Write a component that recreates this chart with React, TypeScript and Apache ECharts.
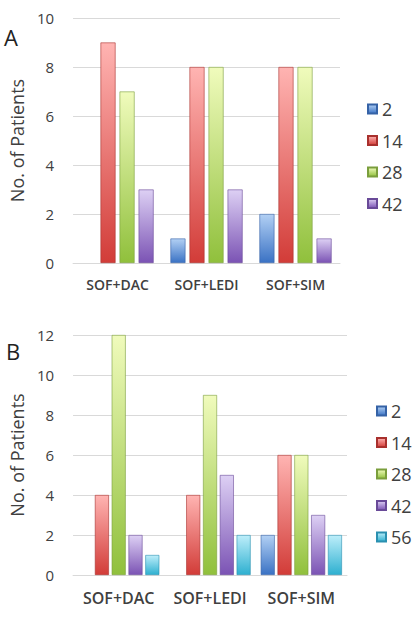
import React, { useEffect, useRef } from "react";
import * as echarts from "echarts";

const categories = ["SOF+DAC", "SOF+LEDI", "SOF+SIM"];
const seriesNamesA = ["2", "14", "28", "42"];
const seriesNamesB = ["2", "14", "28", "42", "56"];
const valuesA = [
  [0, 1, 2],
  [9, 8, 8],
  [7, 8, 8],
  [3, 3, 1],
];
const valuesB = [
  [0, 0, 2],
  [4, 4, 6],
  [12, 9, 6],
  [2, 5, 3],
  [1, 2, 2],
];
const yTicksA = { min: 0, max: 10, interval: 2 };
const yTicksB = { min: 0, max: 12, interval: 2 };

const palette: Record<string, [string, string, string]> = {
  "2": ["#b2d0f4", "#3a72c4", "#3562a6"],
  "14": ["#ffb4b2", "#d23c38", "#a8302d"],
  "28": ["#f0fbbc", "#90c03c", "#7a9e3c"],
  "42": ["#ddd0f4", "#7b53b4", "#694a98"],
  "56": ["#bdeefa", "#2eb0d0", "#2a90b0"],
};

const grad = (name: string) =>
  new echarts.graphic.LinearGradient(0, 0, 0, 1, [
    { offset: 0, color: palette[name][0] },
    { offset: 1, color: palette[name][1] },
  ]);

const FONT = "'Open Sans', sans-serif";
const TXT = "#404040";

export default function App() {
  const ref = useRef<HTMLDivElement>(null);
  useEffect(() => {
    if (!ref.current) return;
    const chart = echarts.init(ref.current, undefined, { renderer: "svg" });
    const mkX = (gi: number, size: number, margin: number) => ({
      type: "category",
      gridIndex: gi,
      data: categories,
      axisTick: { show: false },
      axisLine: { lineStyle: { color: "#d9d9d9" } },
      axisLabel: {
        color: TXT,
        fontFamily: FONT,
        fontSize: size,
        fontWeight: 600,
        margin,
        interval: 0,
        hideOverlap: false,
      },
    });
    const mkY = (gi: number, t: any, nameGap: number) => ({
      type: "value",
      gridIndex: gi,
      min: t.min,
      max: t.max,
      interval: t.interval,
      name: "No. of Patients",
      nameLocation: "middle",
      nameGap,
      nameTextStyle: { color: TXT, fontFamily: FONT, fontSize: 18 },
      axisLine: { show: false },
      axisTick: { show: false },
      splitLine: { lineStyle: { color: "#d9d9d9", width: 1 } },
      axisLabel: { color: TXT, fontFamily: FONT, fontSize: 15, margin: 19 },
    });
    const toData = (arr: number[]) => arr.map((v) => (v === 0 ? "-" : v));
    const series: any[] = [];
    seriesNamesA.forEach((n, i) => {
      series.push({
        type: "bar",
        name: n,
        xAxisIndex: 0,
        yAxisIndex: 0,
        data: toData(valuesA[i]),
        barWidth: 15,
        barGap: "27%",
        itemStyle: { color: grad(n), borderColor: palette[n][2], borderWidth: 0.6 },
      });
    });
    seriesNamesB.forEach((n, i) => {
      series.push({
        type: "bar",
        name: n,
        xAxisIndex: 1,
        yAxisIndex: 1,
        data: toData(valuesB[i]),
        barWidth: 14,
        barGap: "20%",
        itemStyle: { color: grad(n), borderColor: palette[n][2], borderWidth: 0.6 },
      });
    });
    const legendBase = {
      orient: "vertical",
      itemWidth: 9,
      itemHeight: 9,
      icon: "rect",
      textStyle: { color: TXT, fontFamily: FONT, fontSize: 18, lineHeight: 18 },
      selectedMode: false,
    };
    chart.setOption({
      animation: false,
      backgroundColor: "#ffffff",
      grid: [
        { left: 72, right: 74, top: 18, bottom: 357 },
        { left: 72, right: 67, top: 335, bottom: 45 },
      ],
      xAxis: [mkX(0, 14, 14), mkX(1, 16, 15)],
      yAxis: [mkY(0, yTicksA, 46), mkY(1, yTicksB, 46)],
      legend: [
        { ...legendBase, data: seriesNamesA, left: 362, top: 95, itemGap: 13.5 },
        { ...legendBase, data: seriesNamesB, left: 371, top: 397, itemGap: 13.5 },
      ],
      graphic: [
        { type: "text", left: 4, top: 26, style: { text: "A", font: `22px ${FONT}`, fill: "#222" } },
        { type: "text", left: 6, top: 340, style: { text: "B", font: `22px ${FONT}`, fill: "#222" } },
      ],
      series,
    });
    return () => chart.dispose();
  }, []);
  return (
    <div
      ref={ref}
      style={{ position: "fixed", left: 0, top: 0, width: 414, height: 620, background: "#fff" }}
    />
  );
}
